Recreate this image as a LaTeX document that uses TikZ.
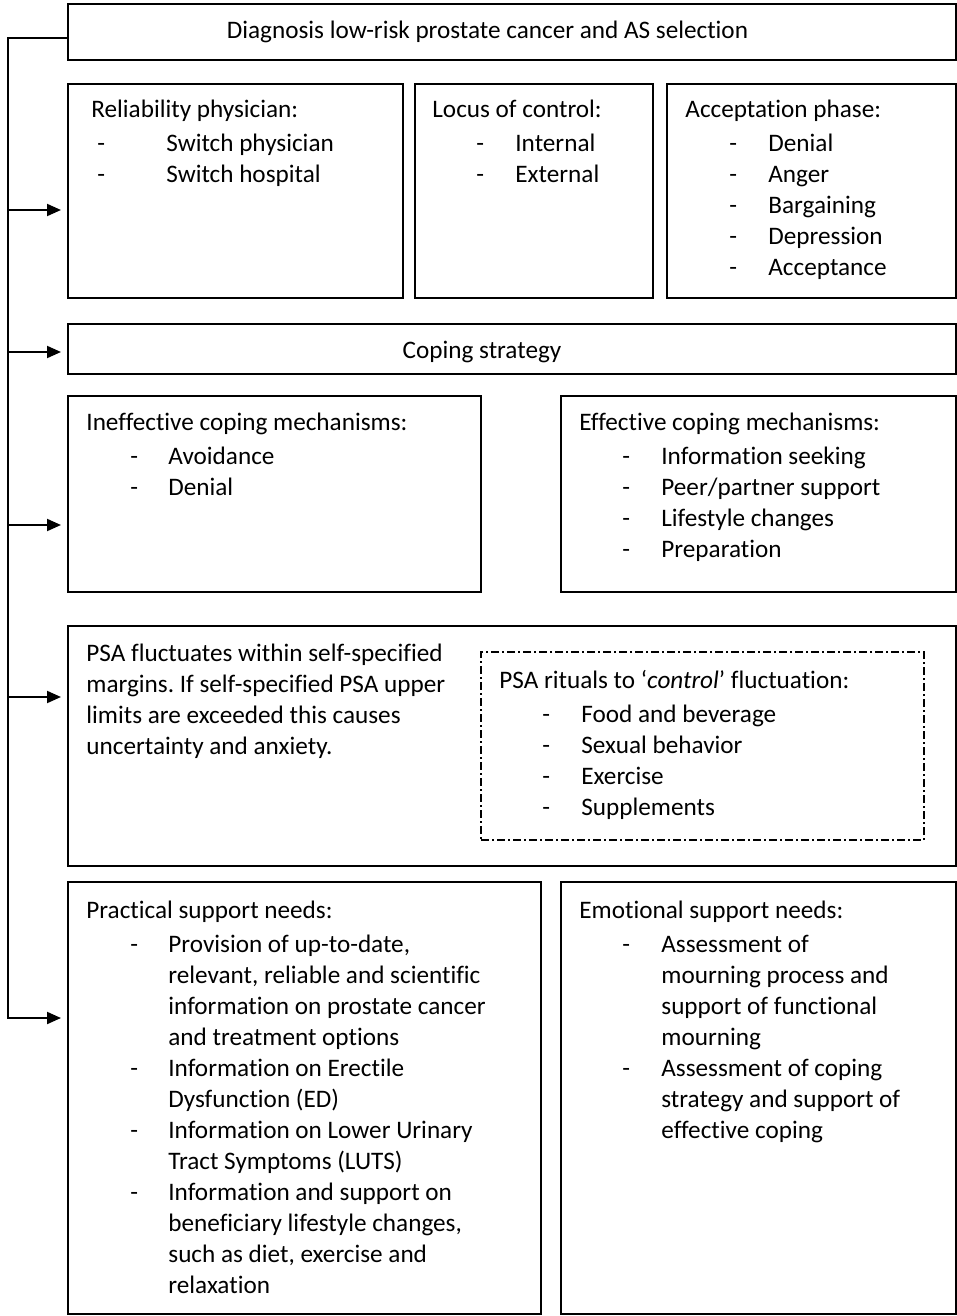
\documentclass[tikz,border=0pt]{standalone}
\usepackage{fontspec}
\setmainfont{Carlito}[Ligatures=CommonOff]
\usetikzlibrary{arrows.meta,fit}
\frenchspacing
\newlength\dashoff
\newlength\itemoff
\newcommand\hd[1]{\hbox{#1}\vskip1.5pt}
\newcommand\li[1]{\hbox{\hspace*{\dashoff}\makebox[\dimexpr\itemoff-\dashoff\relax][l]{-}#1}}
\newcommand\lc[1]{\hbox{\hspace*{\itemoff}#1}}
\newcommand\blk[3]{\vtop{\fontsize{12.6}{15.5}\selectfont\setlength\dashoff{#1}\setlength\itemoff{#2}#3}}
\tikzset{
  box/.style={draw=black, line width=1pt, inner sep=0pt},
  ddbox/.style={draw=black, line width=0.75pt, inner sep=0pt, dash pattern=on 4pt off 1.5pt on 1pt off 1.5pt},
  txt/.style={inner sep=0pt, anchor=base west, font=\fontsize{12.6}{15.5}\selectfont},
  arr/.style={line width=1pt, -{Triangle[length=7pt,width=6pt]}, shorten >=3pt},
  ln/.style={line width=1pt}
}
\begin{document}
\begin{tikzpicture}[x=0.5pt,y=-0.5pt]
\useasboundingbox (0,0) rectangle (957,1316);
% boxes
\node[box, fit={(68,4) (956,60)}] (top) {};
\node[box, fit={(68,84) (403,298)}] (rel) {};
\node[box, fit={(415,84) (653,298)}] (loc) {};
\node[box, fit={(667,84) (956,298)}] (acc) {};
\node[box, fit={(68,324) (956,374)}] (cop) {};
\node[box, fit={(68,396) (481,592)}] (ineff) {};
\node[box, fit={(561,396) (956,592)}] (eff) {};
\node[box, fit={(68,626) (956,866)}] (psa) {};
\node[ddbox, fit={(481,652) (924,840)}] (rit) {};
\node[box, fit={(68,882) (541,1314)}] (prac) {};
\node[box, fit={(561,882) (956,1314)}] (emo) {};
% texts
\node[txt, anchor=base] (topt) at (487.5,39) {Diagnosis low-risk prostate cancer and AS selection};
\node[txt, anchor=base] (copt) at (482,358) {Coping strategy};
\node[txt] (relt) at (91,118) {\blk{3pt}{37.5pt}{\hd{Reliability physician:}\li{Switch physician}\li{Switch hospital}}};
\node[txt] (loct) at (432,118) {\blk{22pt}{41.5pt}{\hd{Locus of control:}\li{Internal}\li{External}}};
\node[txt] (acct) at (685,118) {\blk{22pt}{41.5pt}{\hd{Acceptation phase:}\li{Denial}\li{Anger}\li{Bargaining}\li{Depression}\li{Acceptance}}};
\node[txt] (inefft) at (86,430) {\blk{22pt}{41pt}{\hd{Ineffective coping mechanisms:}\li{Avoidance}\li{Denial}}};
\node[txt] (efft) at (579,430) {\blk{21.5pt}{41pt}{\hd{Effective coping mechanisms:}\li{Information seeking}\li{Peer/partner support}\li{Lifestyle changes}\li{Preparation}}};
\node[txt] (psat) at (86,661) {\blk{0pt}{0pt}{\hbox{PSA fluctuates within self-specified}\hbox{margins. If self-specified PSA upper}\hbox{limits are exceeded this causes}\hbox{uncertainty and anxiety.}}};
\node[txt] (ritt) at (499,688) {\blk{21.5pt}{41pt}{\hd{PSA rituals to ‘\textit{control}’ fluctuation:}\li{Food and beverage}\li{Sexual behavior}\li{Exercise}\li{Supplements}}};
\node[txt] (pract) at (86,918) {\blk{22pt}{41pt}{\hd{Practical support needs:}\li{Provision of up-to-date,}\lc{relevant, reliable and scientific}\lc{information on prostate cancer}\lc{and treatment options}\li{Information on Erectile}\lc{Dysfunction (ED)}\li{Information on Lower Urinary}\lc{Tract Symptoms (LUTS)}\li{Information and support on}\lc{beneficiary lifestyle changes,}\lc{such as diet, exercise and}\lc{relaxation}}};
\node[txt] (emot) at (579,918) {\blk{21.5pt}{41pt}{\hd{Emotional support needs:}\li{Assessment of}\lc{mourning process and}\lc{support of functional}\lc{mourning}\li{Assessment of coping}\lc{strategy and support of}\lc{effective coping}}};
% connectors
\coordinate (t0) at (8,38);
\coordinate (t1) at (8,210);
\coordinate (t2) at (8,352);
\coordinate (t3) at (8,525);
\coordinate (t4) at (8,697);
\coordinate (t5) at (8,1018);
\draw[arr] (t0 -| top.west) -- (t0) -- (t5) -- (t5 -| prac.west);
\draw[arr] (t1) -- (t1 -| rel.west);
\draw[arr] (t2) -- (t2 -| cop.west);
\draw[arr] (t3) -- (t3 -| ineff.west);
\draw[arr] (t4) -- (t4 -| psa.west);
\end{tikzpicture}
\end{document}
